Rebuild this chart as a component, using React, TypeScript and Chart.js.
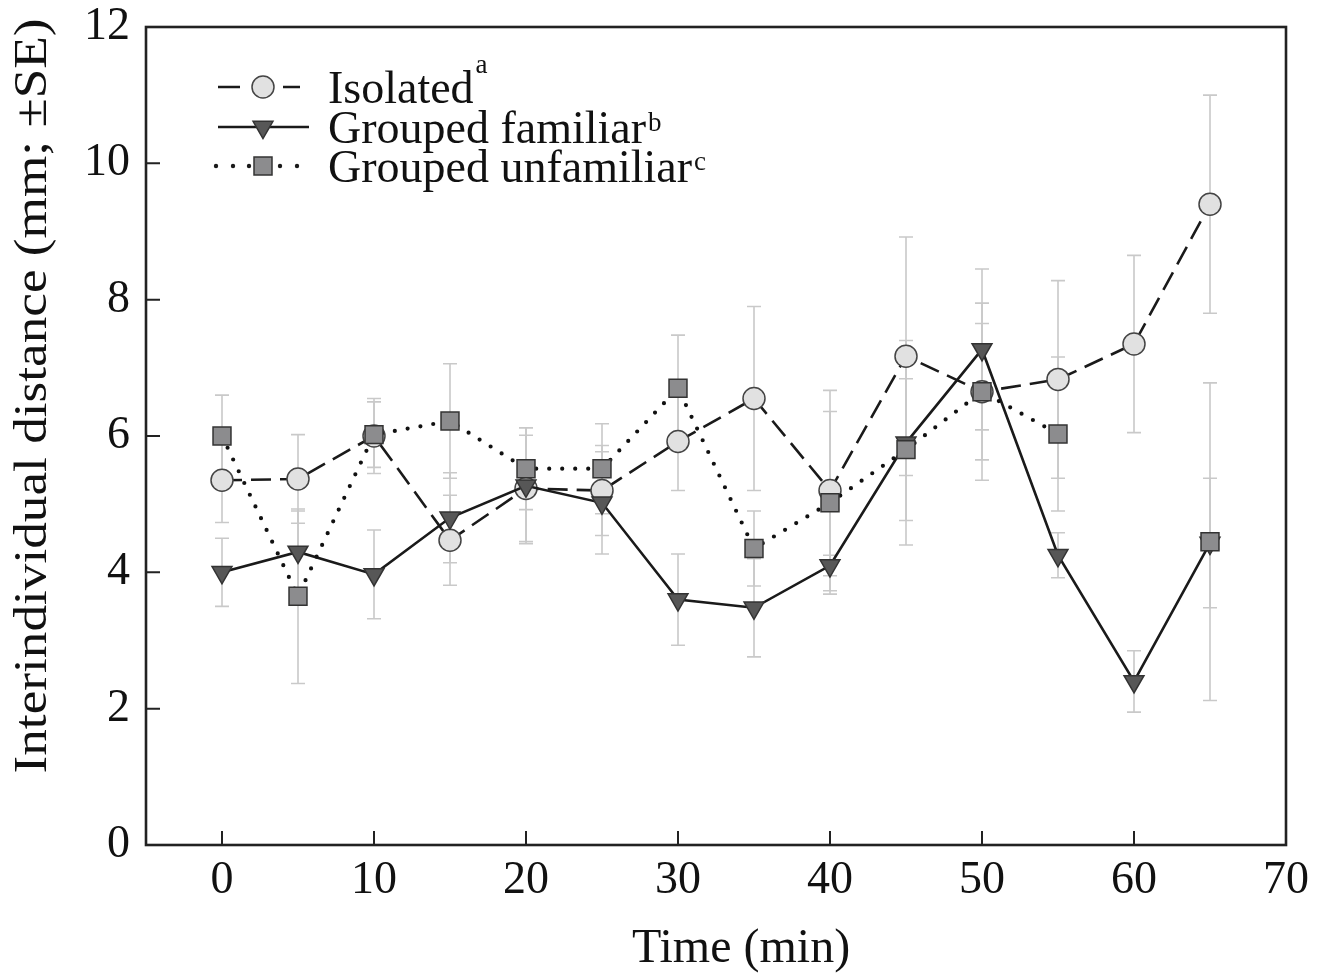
import { useEffect, useRef } from "react";
import { Chart, registerables } from "chart.js";

Chart.register(...registerables);

// ---- data ----
const timePoints = [0, 5, 10, 15, 20, 25, 30, 35, 40, 45, 50, 55, 60, 65];

const isolatedMean = [5.35, 5.37, 6.0, 4.47, 5.23, 5.2, 5.92, 6.55, 5.2, 7.17, 6.65, 6.83, 7.35, 9.4];
const isolatedSE = [0.62, 0.65, 0.55, 0.66, 0.78, 0.66, 0.72, 1.35, 1.47, 1.75, 1.3, 1.45, 1.3, 1.6];

const familiarMean = [4.0, 4.3, 3.97, 4.8, 5.27, 5.02, 3.6, 3.48, 4.1, 5.9, 7.27, 4.25, 2.4, 4.43];
const familiarSE = [0.5, 0.6, 0.65, 0.66, 0.85, 0.75, 0.67, 0.72, 0.15, 1.5, 1.18, 0.33, 0.45, 0.95];

const unfamiliarMean = [6.0, 3.65, 6.02, 6.22, 5.52, 5.52, 6.7, 4.35, 5.02, 5.8, 6.65, 6.03, null, 4.45];
const unfamiliarSE = [0.6, 1.28, 0.48, 0.84, 0.6, 0.66, 0.78, 0.55, 1.34, 1.04, 1.0, 1.13, null, 2.33];

const seriesNames = ["Isolated", "Grouped familiar", "Grouped unfamiliar"];
const seriesSup = ["a", "b", "c"];

const xTickValues = [0, 10, 20, 30, 40, 50, 60, 70];
const xInnerTicks = [0, 10, 20, 30, 40, 50, 60];
const yInnerTicks = [2, 4, 6, 8, 10];

const xTitle = "Time (min)";
const yTitle = "Interindividual distance (mm; \u00b1SE)";

const FONT = "'Liberation Serif', 'Times New Roman', serif";

const seLists = [isolatedSE, familiarSE, unfamiliarSE];

function toPoints(means: (number | null)[]) {
  return timePoints.map((t, i) => ({ x: t, y: means[i] }));
}

function drawMarker(ctx: CanvasRenderingContext2D, kind: string, x: number, y: number) {
  ctx.save();
  ctx.lineWidth = 1.5;
  ctx.setLineDash([]);
  if (kind === "circle") {
    ctx.fillStyle = "#e1e1e1";
    ctx.strokeStyle = "#444";
    ctx.beginPath();
    ctx.arc(x, y, 11, 0, Math.PI * 2);
    ctx.fill();
    ctx.stroke();
  } else if (kind === "triangle") {
    const r = 11.5;
    ctx.fillStyle = "#575757";
    ctx.strokeStyle = "#333";
    ctx.beginPath();
    ctx.moveTo(x, y + r);
    ctx.lineTo(x - r * Math.sin(Math.PI / 3), y - r / 2);
    ctx.lineTo(x + r * Math.sin(Math.PI / 3), y - r / 2);
    ctx.closePath();
    ctx.fill();
    ctx.stroke();
  } else {
    const s = 9;
    ctx.fillStyle = "#8c8c8e";
    ctx.strokeStyle = "#333";
    ctx.beginPath();
    ctx.rect(x - s, y - s, 2 * s, 2 * s);
    ctx.fill();
    ctx.stroke();
  }
  ctx.restore();
}

const decorPlugin = {
  id: "decor",
  beforeDatasetsDraw(chart: any) {
    const ctx: CanvasRenderingContext2D = chart.ctx;
    const xs = chart.scales.x;
    const ys = chart.scales.y;
    ctx.save();
    ctx.strokeStyle = "#c9c9c9";
    ctx.lineWidth = 1.6;
    chart.data.datasets.forEach((ds: any, di: number) => {
      const se = seLists[di];
      ds.data.forEach((p: any, i: number) => {
        if (p.y == null || se[i] == null) return;
        const x = xs.getPixelForValue(p.x);
        const y1 = ys.getPixelForValue(p.y - (se[i] as number));
        const y2 = ys.getPixelForValue(p.y + (se[i] as number));
        ctx.beginPath();
        ctx.moveTo(x, y1);
        ctx.lineTo(x, y2);
        ctx.moveTo(x - 7, y1);
        ctx.lineTo(x + 7, y1);
        ctx.moveTo(x - 7, y2);
        ctx.lineTo(x + 7, y2);
        ctx.stroke();
      });
    });
    ctx.restore();
  },
  afterDraw(chart: any) {
    const ctx: CanvasRenderingContext2D = chart.ctx;
    const a = chart.chartArea;
    const xs = chart.scales.x;
    const ys = chart.scales.y;
    ctx.save();
    // frame
    ctx.strokeStyle = "#222";
    ctx.lineWidth = 2.6;
    ctx.strokeRect(a.left, a.top, a.right - a.left, a.bottom - a.top);
    // inward tick marks
    ctx.lineWidth = 2;
    ctx.beginPath();
    xInnerTicks.forEach((v) => {
      const x = xs.getPixelForValue(v);
      ctx.moveTo(x, a.bottom);
      ctx.lineTo(x, a.bottom - 14);
    });
    yInnerTicks.forEach((v) => {
      const y = ys.getPixelForValue(v);
      ctx.moveTo(a.left, y);
      ctx.lineTo(a.left + 14, y);
    });
    ctx.stroke();

    // axis titles
    ctx.fillStyle = "#111";
    ctx.font = `48px ${FONT}`;
    ctx.textAlign = "center";
    ctx.textBaseline = "alphabetic";
    ctx.fillText(xTitle, 741, 962);

    ctx.save();
    ctx.translate(46, 396);
    ctx.rotate(-Math.PI / 2);
    ctx.font = `47px ${FONT}`;
    const w = ctx.measureText(yTitle).width;
    ctx.scale(755 / w, 1);
    ctx.textAlign = "center";
    ctx.fillText(yTitle, 0, 0);
    ctx.restore();

    // legend
    const rows = [
      { y: 87, kind: "circle" },
      { y: 127, kind: "triangle" },
      { y: 166, kind: "rect" },
    ];
    const supOffsets = [30, 12, 12];
    rows.forEach((r, i) => {
      ctx.save();
      ctx.strokeStyle = "#1a1a1a";
      ctx.fillStyle = "#1a1a1a";
      ctx.lineWidth = 2.6;
      if (r.kind === "circle") {
        ctx.beginPath();
        ctx.moveTo(218, r.y);
        ctx.lineTo(240, r.y);
        ctx.moveTo(283, r.y);
        ctx.lineTo(300, r.y);
        ctx.stroke();
      } else if (r.kind === "triangle") {
        ctx.beginPath();
        ctx.moveTo(218, r.y);
        ctx.lineTo(309, r.y);
        ctx.stroke();
      } else {
        [216, 233, 249, 280, 297].forEach((dx) => {
          ctx.beginPath();
          ctx.arc(dx, r.y, 2.2, 0, Math.PI * 2);
          ctx.fill();
        });
      }
      ctx.restore();
      drawMarker(ctx, r.kind, 263, r.y);
      ctx.fillStyle = "#111";
      ctx.font = `46px ${FONT}`;
      ctx.textAlign = "left";
      ctx.textBaseline = "alphabetic";
      const base = r.y + 16;
      ctx.fillText(seriesNames[i], 328, base);
      const tw = ctx.measureText(seriesNames[i]).width;
      ctx.font = `27px ${FONT}`;
      ctx.fillText(seriesSup[i], 328 + tw + 2, base - supOffsets[i]);
    });
    ctx.restore();
  },
};

export default function App() {
  const canvasRef = useRef<HTMLCanvasElement | null>(null);

  useEffect(() => {
    const canvas = canvasRef.current;
    if (!canvas) return;
    const chart = new Chart(canvas, {
      type: "line",
      data: {
        datasets: [
          {
            label: seriesNames[0],
            data: toPoints(isolatedMean),
            borderColor: "#1a1a1a",
            borderWidth: 2.6,
            borderDash: [20, 9],
            pointStyle: "circle",
            pointRadius: 11,
            pointHoverRadius: 11,
            pointBackgroundColor: "#e1e1e1",
            pointBorderColor: "#444",
            pointBorderWidth: 1.5,
            order: 3,
          },
          {
            label: seriesNames[1],
            data: toPoints(familiarMean),
            borderColor: "#1a1a1a",
            borderWidth: 2.6,
            pointStyle: "triangle",
            pointRotation: 180,
            pointRadius: 11.5,
            pointHoverRadius: 11.5,
            pointBackgroundColor: "#575757",
            pointBorderColor: "#333",
            pointBorderWidth: 1.5,
            order: 2,
          },
          {
            label: seriesNames[2],
            data: toPoints(unfamiliarMean),
            borderColor: "#111",
            borderWidth: 4.2,
            borderDash: [0, 13],
            borderCapStyle: "round",
            pointStyle: "rect",
            pointRadius: 12.7,
            pointHoverRadius: 12.7,
            pointBackgroundColor: "#8c8c8e",
            pointBorderColor: "#333",
            pointBorderWidth: 1.5,
            spanGaps: false,
            order: 1,
          },
        ] as any,
      },
      options: {
        responsive: false,
        animation: false,
        devicePixelRatio: 1,
        layout: { padding: { left: 0, right: 42, top: 27, bottom: 0 } },
        plugins: {
          legend: { display: false },
          tooltip: { enabled: false },
        },
        scales: {
          x: {
            type: "linear",
            min: -5,
            max: 70,
            afterBuildTicks: (axis: any) => {
              axis.ticks = xTickValues.map((v) => ({ value: v }));
            },
            afterFit: (scale: any) => {
              scale.height = 131;
            },
            grid: { display: false, drawTicks: false },
            border: { display: false },
            ticks: {
              color: "#111",
              padding: 8,
              maxRotation: 0,
              autoSkip: false,
              font: { family: FONT, size: 46 },
            },
          },
          y: {
            type: "linear",
            min: 0,
            max: 12,
            afterFit: (scale: any) => {
              scale.width = 146;
              scale.paddingTop = 0;
              scale.paddingBottom = 0;
            },
            grid: { display: false, drawTicks: false },
            border: { display: false },
            ticks: {
              stepSize: 2,
              color: "#111",
              padding: 16,
              font: { family: FONT, size: 46, lineHeight: 0.5 },
            },
          },
        },
      },
      plugins: [decorPlugin],
    });
    return () => chart.destroy();
  }, []);

  return (
    <div style={{ position: "absolute", left: 0, top: 0, width: 1328, height: 976, background: "#fff" }}>
      <canvas ref={canvasRef} width={1328} height={976} />
    </div>
  );
}
